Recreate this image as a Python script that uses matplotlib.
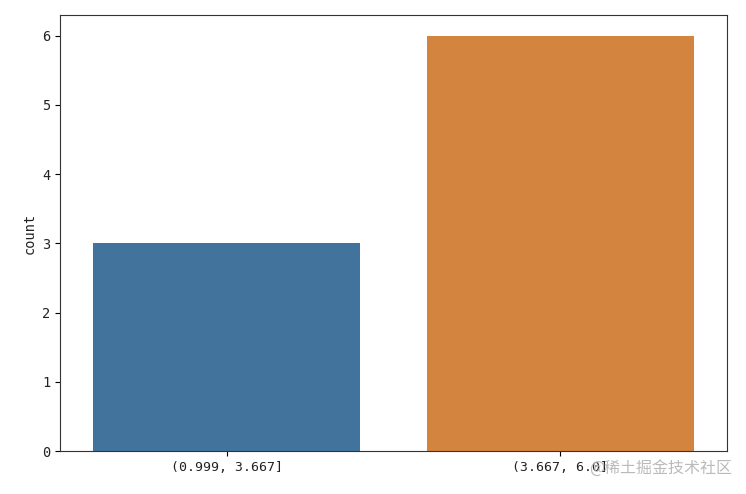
import matplotlib
matplotlib.use('Agg')
import matplotlib.pyplot as plt

plt.rcParams['font.family'] = ['DejaVu Sans Mono', 'Noto Sans CJK SC']

# 구간별 개수
categories = ['(0.999, 3.667]', '(3.667, 6.0]']
counts = [3, 6]
colors = ['#42739d', '#d3843f']

fig = plt.figure(figsize=(7.46, 4.94), dpi=100)
ax = fig.add_axes([0.0804, 0.087, 0.894, 0.883])

ax.bar(range(len(categories)), counts, width=0.8, color=colors)
ax.set_xticks(range(len(categories)))
ax.set_xticklabels(categories, fontsize=9.5, color='#222222')
ax.set_xlim(-0.5, 1.5)
ax.set_ylim(0, 6.3)
ax.tick_params(axis='y', labelsize=9.8, labelcolor='#222222')
ax.set_ylabel('count', fontsize=9.8, color='#222222')
for s in ax.spines.values():
    s.set_color('#333333')

# 워터마크
fig.text(0.982, 0.05, '@稀土掘金技术社区', ha='right', va='center',
         fontsize=11.5, color='#bbbbbb', family=['Noto Sans CJK SC'])

fig.savefig('out.png', dpi=100)
